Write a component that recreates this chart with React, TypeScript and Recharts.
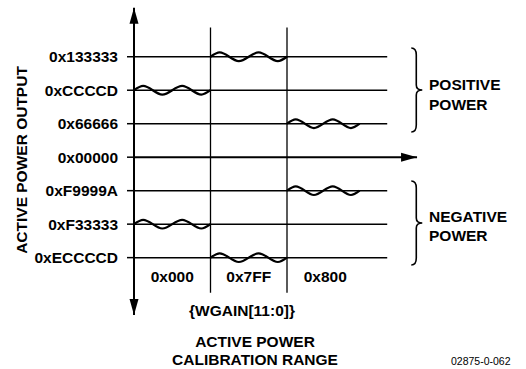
import { Line, LineChart, ReferenceLine, XAxis, YAxis } from "recharts";

// output levels (rows) and their register values
const rowValues = [3, 2, 1, 0, -1, -2, -3];
const rowLabels = ["0x133333", "0xCCCCD", "0x66666", "0x00000", "0xF9999A", "0xF33333", "0xECCCCD"];

// calibration range columns
const colCenters = [0.5, 1.5, 2.5];
const colLabels = ["0x000", "0x7FF", "0x800"];
const colEdges = [1, 2];

// one rippled output per column/row pair
const waveCols = [0, 1, 2, 2, 0, 1];
const waveRows = [2, 3, 1, -1, -2, -3];
const waveSpans = [1, 1, 0.95, 0.95, 1, 1];
// ripple shape (column units / row units)
const rippleDx = [0, 0.12, 0.37, 0.63, 0.88, 1];
const rippleDy = [0, 0.13, -0.13, 0.13, -0.13, 0];

const waves = waveCols.map((c, i) =>
  rippleDx.map((dx, j) => ({ x: c + dx * waveSpans[i], y: waveRows[i] + rippleDy[j] }))
);

const FONT = "'Liberation Sans', Arial, Helvetica, sans-serif";
const INK = "#000";

const ArrowLine = (props: any) => {
  const { x1, y1, x2, y2, both } = props;
  const len = Math.hypot(x2 - x1, y2 - y1) || 1;
  const ux = (x2 - x1) / len;
  const uy = (y2 - y1) / len;
  const head = (tx: number, ty: number, dx: number, dy: number) => {
    const bx = tx - dx * 16;
    const by = ty - dy * 16;
    const px = -dy * 4.5;
    const py = dx * 4.5;
    return `${tx},${ty} ${bx + px},${by + py} ${bx - px},${by - py}`;
  };
  return (
    <g>
      <line x1={x1} y1={y1} x2={x2} y2={y2} stroke={INK} strokeWidth={2} />
      <polygon points={head(x2, y2, ux, uy)} fill={INK} />
      {both ? <polygon points={head(x1, y1, -ux, -uy)} fill={INK} /> : null}
    </g>
  );
};

const Brace = (props: any) => {
  const { x1, y1, y2 } = props;
  const x = x1;
  const mid = (y1 + y2) / 2;
  const d = `M${x - 5},${y1} Q${x},${y1} ${x},${y1 + 7} L${x},${mid - 5} Q${x},${mid} ${x + 6},${mid} Q${x},${mid} ${x},${mid + 5} L${x},${y2 - 7} Q${x},${y2} ${x - 5},${y2}`;
  return <path d={d} fill="none" stroke={INK} strokeWidth={1.6} />;
};

const textStyle = { fontFamily: FONT, fontWeight: 700, fontSize: 15.5, fill: INK };

const App = () => {
  return (
    <div style={{ position: "absolute", left: 0, top: 0, width: 526, height: 369, background: "#fff" }}>
      <LineChart width={526} height={369} margin={{ top: 40, right: 86, bottom: 73, left: 8 }}>
        <XAxis
          type="number"
          dataKey="x"
          domain={[0, 4]}
          ticks={colCenters}
          tickFormatter={(v: number) => colLabels[colCenters.indexOf(v)] ?? ""}
          axisLine={false}
          tickLine={false}
          tickSize={0}
          tickMargin={5}
          height={30}
          tick={textStyle}
        />
        <YAxis
          type="number"
          domain={[-3.25, 3.5]}
          ticks={rowValues}
          tickFormatter={(v: number) => rowLabels[rowValues.indexOf(v)] ?? ""}
          axisLine={false}
          tickLine={{ stroke: INK, strokeWidth: 1.5 }}
          tickSize={7}
          tickMargin={9}
          width={126}
          tick={textStyle}
        />

        {rowValues
          .filter((r) => r !== 0)
          .map((r) => (
            <ReferenceLine
              key={`row-${r}`}
              segment={[
                { x: 0, y: r },
                { x: 3.31, y: r },
              ]}
              stroke={INK}
              strokeWidth={1.5}
              ifOverflow="visible"
            />
          ))}
        {colEdges.map((c) => (
          <ReferenceLine
            key={`col-${c}`}
            segment={[
              { x: c, y: 3.87 },
              { x: c, y: -4.05 },
            ]}
            stroke={INK}
            strokeWidth={1.3}
            ifOverflow="visible"
          />
        ))}

        <ReferenceLine
          segment={[
            { x: 0, y: 0 },
            { x: 3.7, y: 0 },
          ]}
          ifOverflow="visible"
          shape={(p: any) => <ArrowLine {...p} />}
        />
        <ReferenceLine
          segment={[
            { x: 0, y: 4.46 },
            { x: 0, y: -4.71 },
          ]}
          ifOverflow="visible"
          shape={(p: any) => <ArrowLine {...p} both />}
        />

        <ReferenceLine
          segment={[
            { x: 3.69, y: 3.26 },
            { x: 3.69, y: 0.75 },
          ]}
          ifOverflow="visible"
          shape={(p: any) => <Brace {...p} />}
        />
        <ReferenceLine
          segment={[
            { x: 3.69, y: -0.71 },
            { x: 3.69, y: -3.22 },
          ]}
          ifOverflow="visible"
          shape={(p: any) => <Brace {...p} />}
        />

        {waves.map((w, i) => (
          <Line
            key={`wave-${i}`}
            data={w}
            dataKey="y"
            type="monotone"
            stroke={INK}
            strokeWidth={2.2}
            dot={false}
            activeDot={false}
            isAnimationActive={false}
          />
        ))}

        <text x={27} y={160} transform="rotate(-90 27 160)" textAnchor="middle" style={textStyle}>
          ACTIVE POWER OUTPUT
        </text>
        <text x={429} y={90} style={textStyle}>POSITIVE</text>
        <text x={429} y={110} style={textStyle}>POWER</text>
        <text x={429} y={222} style={textStyle}>NEGATIVE</text>
        <text x={429} y={241} style={textStyle}>POWER</text>
        <text x={242} y={316} textAnchor="middle" style={textStyle}>{"{WGAIN[11:0]}"}</text>
        <text x={255} y={347} textAnchor="middle" style={textStyle}>ACTIVE POWER</text>
        <text x={255} y={365} textAnchor="middle" style={textStyle}>CALIBRATION RANGE</text>
        <text x={451} y={365} style={{ fontFamily: FONT, fontSize: 10.5, fill: INK }}>02875-0-062</text>
      </LineChart>
    </div>
  );
};

export default App;
